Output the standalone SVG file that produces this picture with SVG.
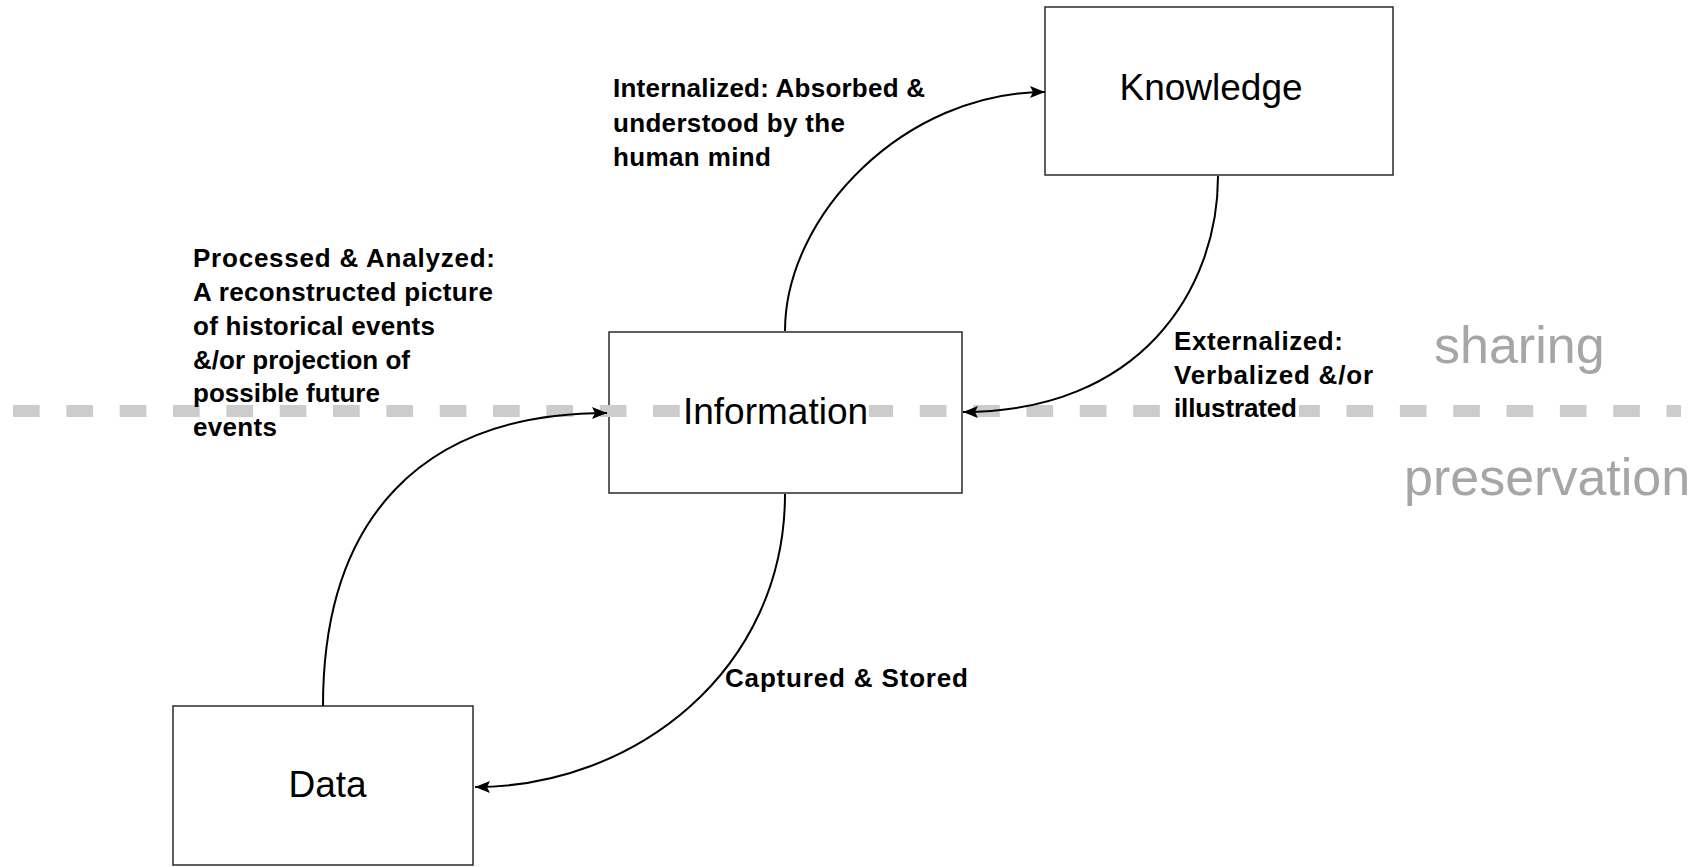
<svg xmlns="http://www.w3.org/2000/svg" width="1703" height="867" viewBox="0 0 1703 867">
  <style>
    .box { fill: #ffffff; stroke: #2a2a2a; stroke-width: 1.5; }
    .node-label { font-family: "Liberation Sans", Arial, sans-serif; font-size: 37px; fill: #000; text-anchor: middle; }
    .edge-label { font-family: "Liberation Sans", Arial, sans-serif; font-size: 26px; font-weight: bold; fill: #000; }
    .zone { font-family: "Liberation Sans", Arial, sans-serif; font-size: 52px; fill: #a6a6a6; }
    .conn { fill: none; stroke: #000; stroke-width: 2; marker-end: url(#arrow); }
    .divider { stroke: #cccccc; stroke-width: 12; stroke-dasharray: 26.67 26.67; fill: none; }
  </style>
  <defs>
    <marker id="arrow" markerUnits="userSpaceOnUse" markerWidth="16" markerHeight="14" refX="15" refY="7" orient="auto">
      <path d="M0,1 L15,7 L0,13 L3,7 z" fill="#000"/>
    </marker>
  </defs>
  <rect width="1703" height="867" fill="#ffffff"/>

  <g id="node-knowledge">
    <rect class="box" x="1045" y="7" width="348" height="168"/>
    <text class="node-label" x="1211" y="100">Knowledge</text>
  </g>
  <g id="node-information">
    <rect class="box" x="609" y="332" width="353" height="161"/>
  </g>
  <g id="node-data">
    <rect class="box" x="173" y="706" width="300" height="159"/>
    <text class="node-label" x="327.5" y="797">Data</text>
  </g>

  <g id="divider">
    <line class="divider" x1="13" y1="411" x2="1681" y2="411"/>
    <text class="zone" x="1434" y="363">sharing</text>
    <text class="zone" x="1404" y="495">preservation</text>
  </g>

  <g id="node-information-label">
    <rect x="681" y="402" width="188" height="18" fill="#ffffff"/>
    <text class="node-label" x="775.5" y="424">Information</text>
  </g>

  <g id="labels">
    <g id="label-internalized">
      <text class="edge-label" x="613" y="97" textLength="312" lengthAdjust="spacing">Internalized: Absorbed &amp;</text>
      <text class="edge-label" x="613" y="131.5" textLength="232" lengthAdjust="spacing">understood by the</text>
      <text class="edge-label" x="613" y="166" textLength="158" lengthAdjust="spacing">human mind</text>
    </g>
    <g id="label-processed">
      <text class="edge-label" x="193" y="267" textLength="302" lengthAdjust="spacing">Processed &amp; Analyzed:</text>
      <text class="edge-label" x="193" y="301" textLength="300" lengthAdjust="spacing">A reconstructed picture</text>
      <text class="edge-label" x="193" y="334.5" textLength="242" lengthAdjust="spacing">of historical events</text>
      <text class="edge-label" x="193" y="368.5" textLength="217" lengthAdjust="spacing">&amp;/or projection of</text>
      <text class="edge-label" x="193" y="402" textLength="187" lengthAdjust="spacing">possible future</text>
      <text class="edge-label" x="193" y="436" textLength="84" lengthAdjust="spacing">events</text>
    </g>
    <g id="label-externalized">
      <rect x="1172" y="403" width="127" height="16" fill="#ffffff"/>
      <text class="edge-label" x="1174" y="350" textLength="169" lengthAdjust="spacing">Externalized:</text>
      <text class="edge-label" x="1174" y="383.5" textLength="199" lengthAdjust="spacing">Verbalized &amp;/or</text>
      <text class="edge-label" x="1174" y="417" textLength="123" lengthAdjust="spacing">illustrated</text>
    </g>
    <g id="label-captured">
      <text class="edge-label" x="725" y="687" textLength="243" lengthAdjust="spacing">Captured &amp; Stored</text>
    </g>
  </g>

  <g id="connectors">
    <path class="conn" d="M785,331 C785,215 905,92 1045,92"/>
    <path class="conn" d="M1218,176 C1218,290 1140,412 963,412"/>
    <path class="conn" d="M785,494 C785,670 635,787 475,787"/>
    <path class="conn" d="M323,706 C323,520 420,413 607,413"/>
  </g>
</svg>
